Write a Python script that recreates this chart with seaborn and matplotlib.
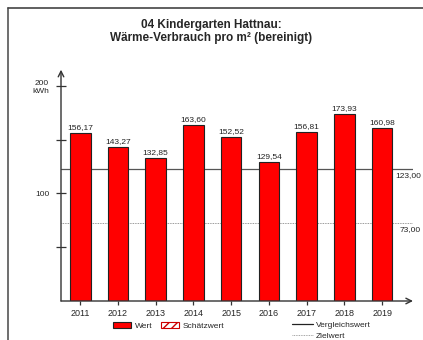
import matplotlib
matplotlib.use("Agg")
import matplotlib.pyplot as plt
import seaborn as sns
import pandas as pd
from matplotlib.patches import Patch
from matplotlib.lines import Line2D

years = ["2011", "2012", "2013", "2014", "2015", "2016", "2017", "2018", "2019"]
values = [156.17, 143.27, 132.85, 163.60, 152.52, 129.54, 156.81, 173.93, 160.98]
vergleich = 123.0
ziel = 73.0

sns.set_style("white")
plt.rcParams['font.family'] = ['Liberation Sans', 'DejaVu Sans']

df = pd.DataFrame({"Jahr": years, "Wert": values})

fig = plt.figure(figsize=(4.23, 3.40), dpi=100)
ax = fig.add_axes([61 / 423, 39 / 340, 352 / 423, 229 / 340])

sns.barplot(data=df, x="Jahr", y="Wert", color="#ff0000", width=0.545,
            edgecolor="#222222", linewidth=0.8, saturation=1, ax=ax, zorder=3)

ax.set_xlim(-0.51, 8.82)
ax.set_ylim(0, 213)

# value labels
for i, v in enumerate(values):
    ax.text(i, v + 2, f"{v:.2f}".replace(".", ","), ha="center", va="bottom",
            fontsize=6, color="#222222")

# reference lines
ax.axhline(vergleich, xmin=0, xmax=1, color="#555555", lw=0.9, zorder=2)
ax.axhline(ziel, xmin=0, xmax=1, color="#777777", lw=0.6, ls=(0, (1, 1)), zorder=2)
lbl_tr = matplotlib.transforms.blended_transform_factory(fig.transFigure, ax.transData)
ax.text(421 / 423, vergleich - 3, "123,00", transform=lbl_tr,
        ha="right", va="top", fontsize=6, color="#222222", clip_on=False)
ax.text(421 / 423, ziel - 3, "73,00", transform=lbl_tr,
        ha="right", va="top", fontsize=6, color="#222222", clip_on=False)

# axes with arrows
for s in ax.spines.values():
    s.set_visible(False)
ax.annotate("", xy=(0, 1.01), xytext=(0, 0), xycoords="axes fraction",
            arrowprops=dict(arrowstyle="->", color="#333333", lw=1.0, shrinkA=0, shrinkB=0))
ax.annotate("", xy=(1.0, 0), xytext=(0, 0), xycoords="axes fraction",
            arrowprops=dict(arrowstyle="->", color="#333333", lw=1.0, shrinkA=0, shrinkB=0))

ax.set_yticks([50, 100, 150, 200])
ax.set_yticklabels(["", "100", "", "200\nkWh"])
ax.tick_params(axis="y", direction="inout", length=7, width=0.9, color="#333333",
               labelsize=6, pad=5, left=True)
ax.tick_params(axis="x", direction="out", length=3, width=0.9, color="#333333",
               labelsize=6.5, pad=2.5, bottom=True)
ax.set_xlabel("")
ax.set_ylabel("")

fig.text(0.5, 0.945, "04 Kindergarten Hattnau:\nWärme-Verbrauch pro m² (bereinigt)",
         ha="center", va="top", fontsize=8.5, fontweight="bold", linespacing=1.15)

# frame lines (left and top)
fig.add_artist(Line2D([8 / 423, 8 / 423], [0, 1 - 8 / 340], color="#555555", lw=1.2))
fig.add_artist(Line2D([8 / 423, 1], [1 - 8 / 340, 1 - 8 / 340], color="#444444", lw=1.2))

h1 = [Patch(facecolor="#ff0000", edgecolor="#222222", lw=0.8, label="Wert"),
      Patch(facecolor="white", edgecolor="#cc0000", hatch="////", lw=0.8, label="Schätzwert")]
fig.legend(handles=h1, loc="center left", bbox_to_anchor=(113 / 423, 1 - 326 / 340),
           ncol=2, frameon=False, fontsize=6, handlelength=2.2, handleheight=0.8,
           columnspacing=1.0, handletextpad=0.4, borderpad=0, borderaxespad=0)

h2 = [Line2D([], [], color="#222222", lw=0.9, label="Vergleichswert"),
      Line2D([], [], color="#888888", lw=0.6, ls=(0, (1, 1)), label="Zielwert")]
fig.legend(handles=h2, loc="upper left", bbox_to_anchor=(292 / 423, 1 - 321 / 340),
           ncol=1, frameon=False, fontsize=6, handlelength=2.5,
           handletextpad=0.4, labelspacing=0.35, borderpad=0, borderaxespad=0)

fig.savefig("out.png", dpi=100)
